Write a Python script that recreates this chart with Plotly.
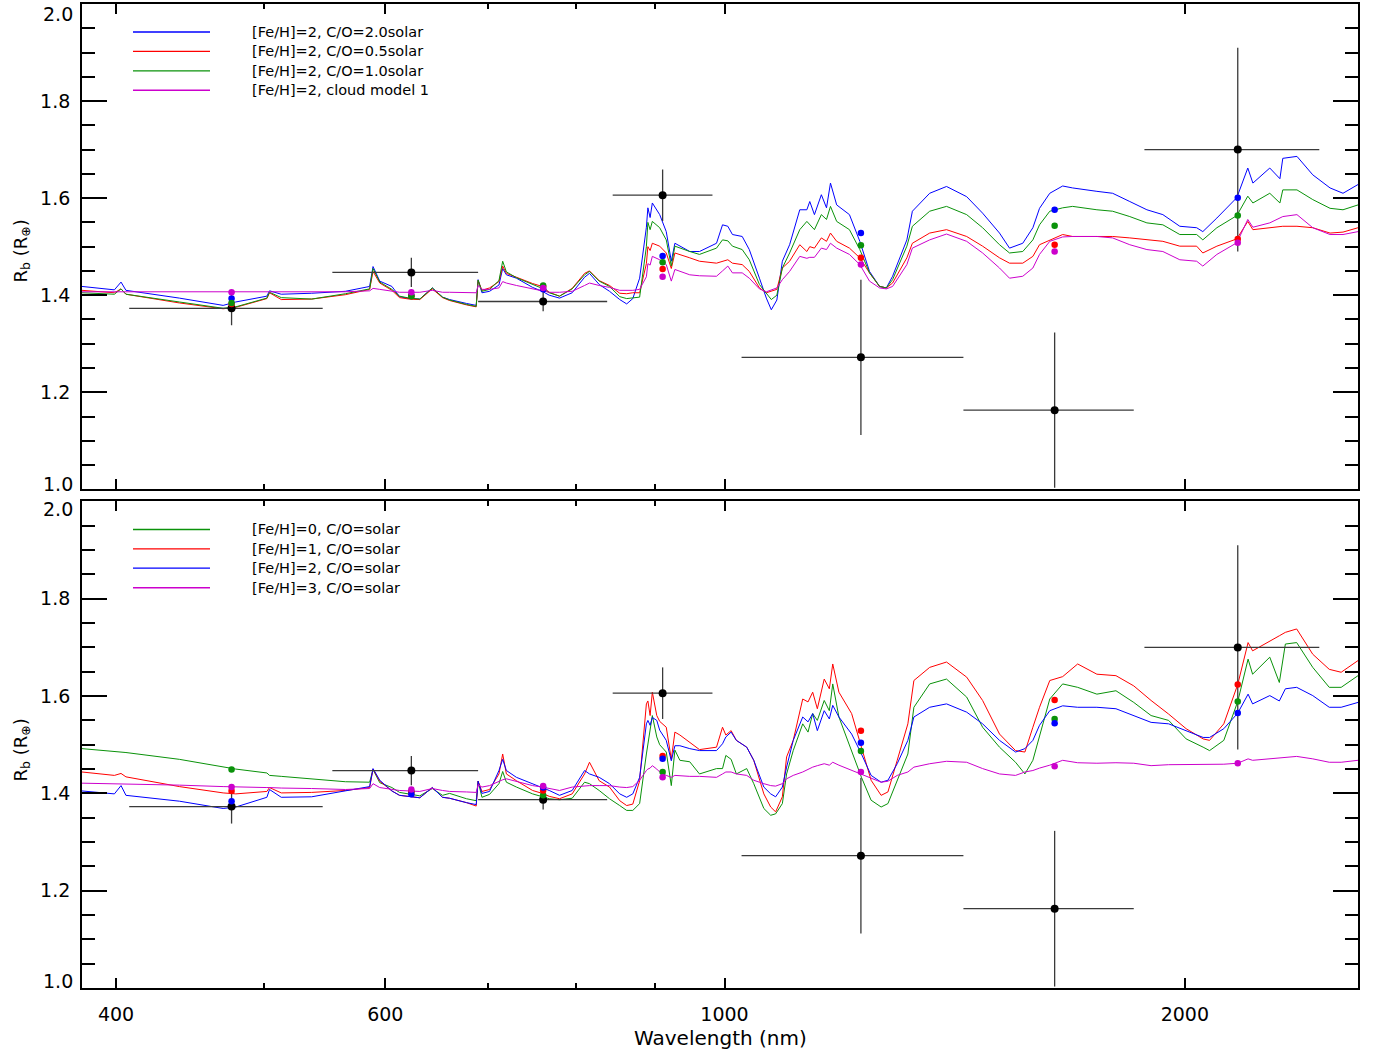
import math
import plotly.graph_objects as go

# ---------------------------------------------------------------------------
# Model transmission spectra, upper panel: [Fe/H]=2 with different C/O / clouds
# ---------------------------------------------------------------------------
wl_top = [380, 399, 403, 406, 440, 470, 479, 502, 504, 513, 537, 565, 586, 589,
          595, 606, 613, 622, 632, 644, 654, 661, 678, 688, 690, 694, 702, 712,
          716, 720, 731, 749, 760, 768, 780, 795, 810, 816, 828, 841, 854, 863,
          871, 880, 889, 891, 894, 897, 907, 916, 923, 928, 949, 963, 988, 997,
          1005, 1012, 1027, 1038, 1054, 1065, 1073, 1082, 1091, 1103, 1120, 1132,
          1137, 1145, 1157, 1166, 1173, 1184, 1207, 1226, 1244, 1263, 1276, 1288,
          1316, 1327, 1362, 1397, 1440, 1475, 1513, 1536, 1567, 1591, 1607, 1632,
          1664, 1689, 1752, 1794, 1841, 1889, 1935, 1985, 2036, 2055, 2099, 2163,
          2199, 2216, 2273, 2308, 2318, 2368, 2425, 2489, 2538, 2596]

top_co20 = [1.418, 1.411, 1.427, 1.410, 1.394, 1.379, 1.386, 1.398, 1.409, 1.402,
            1.404, 1.408, 1.418, 1.459, 1.429, 1.418, 1.397, 1.393, 1.392, 1.415,
            1.396, 1.391, 1.383, 1.379, 1.432, 1.405, 1.408, 1.421, 1.455, 1.442,
            1.435, 1.416, 1.408, 1.400, 1.394, 1.405, 1.437, 1.445, 1.422, 1.408,
            1.391, 1.382, 1.393, 1.435, 1.540, 1.580, 1.560, 1.590, 1.566, 1.531,
            1.470, 1.507, 1.490, 1.490, 1.507, 1.545, 1.542, 1.525, 1.521, 1.494,
            1.435, 1.394, 1.370, 1.390, 1.470, 1.504, 1.576, 1.576, 1.593, 1.566,
            1.607, 1.580, 1.631, 1.586, 1.566, 1.511, 1.449, 1.418, 1.415, 1.439,
            1.514, 1.573, 1.610, 1.624, 1.603, 1.569, 1.528, 1.497, 1.507, 1.539,
            1.579, 1.610, 1.625, 1.621, 1.614, 1.610, 1.593, 1.576, 1.566, 1.542,
            1.539, 1.531, 1.559, 1.601, 1.662, 1.631, 1.662, 1.640, 1.682, 1.686,
            1.648, 1.621, 1.610, 1.628]

top_co05 = [1.410, 1.405, 1.413, 1.402, 1.384, 1.372, 1.375, 1.393, 1.405, 1.391,
            1.392, 1.401, 1.412, 1.449, 1.425, 1.410, 1.395, 1.392, 1.391, 1.413,
            1.395, 1.389, 1.380, 1.376, 1.430, 1.410, 1.415, 1.428, 1.460, 1.445,
            1.437, 1.424, 1.418, 1.406, 1.398, 1.414, 1.445, 1.450, 1.430, 1.420,
            1.404, 1.403, 1.405, 1.405, 1.465, 1.500, 1.492, 1.507, 1.501, 1.487,
            1.455, 1.487, 1.477, 1.470, 1.466, 1.470, 1.473, 1.466, 1.463, 1.449,
            1.415, 1.405, 1.408, 1.412, 1.456, 1.470, 1.504, 1.490, 1.500, 1.497,
            1.518, 1.511, 1.528, 1.511, 1.497, 1.477, 1.446, 1.418, 1.415, 1.425,
            1.477, 1.507, 1.528, 1.535, 1.521, 1.501, 1.477, 1.466, 1.466, 1.480,
            1.504, 1.514, 1.525, 1.521, 1.521, 1.521, 1.518, 1.514, 1.511, 1.501,
            1.501, 1.487, 1.501, 1.516, 1.552, 1.535, 1.539, 1.540, 1.542, 1.542,
            1.539, 1.528, 1.530, 1.539]

top_co10 = [1.405, 1.402, 1.413, 1.402, 1.386, 1.373, 1.376, 1.394, 1.406, 1.395,
            1.392, 1.403, 1.413, 1.455, 1.427, 1.412, 1.398, 1.394, 1.392, 1.415,
            1.396, 1.390, 1.381, 1.377, 1.431, 1.408, 1.412, 1.430, 1.470, 1.448,
            1.436, 1.422, 1.414, 1.405, 1.398, 1.413, 1.442, 1.449, 1.429, 1.418,
            1.397, 1.393, 1.394, 1.396, 1.500, 1.550, 1.535, 1.552, 1.539, 1.514,
            1.460, 1.501, 1.490, 1.484, 1.497, 1.514, 1.512, 1.501, 1.494, 1.473,
            1.422, 1.405, 1.391, 1.400, 1.456, 1.487, 1.535, 1.552, 1.545, 1.535,
            1.566, 1.556, 1.583, 1.552, 1.535, 1.494, 1.446, 1.418, 1.415, 1.432,
            1.501, 1.542, 1.573, 1.583, 1.566, 1.539, 1.504, 1.487, 1.490, 1.514,
            1.545, 1.573, 1.580, 1.583, 1.576, 1.573, 1.562, 1.549, 1.545, 1.525,
            1.525, 1.514, 1.539, 1.564, 1.604, 1.590, 1.610, 1.590, 1.617, 1.617,
            1.597, 1.579, 1.576, 1.586]

top_cloud = [1.407, 1.407, 1.408, 1.407, 1.407, 1.407, 1.407, 1.407, 1.408, 1.407,
             1.407, 1.407, 1.409, 1.414, 1.412, 1.408, 1.406, 1.406, 1.406, 1.410,
             1.406, 1.406, 1.406, 1.405, 1.420, 1.412, 1.412, 1.415, 1.428, 1.425,
             1.420, 1.413, 1.410, 1.406, 1.406, 1.408, 1.420, 1.425, 1.420, 1.416,
             1.410, 1.410, 1.410, 1.412, 1.438, 1.465, 1.462, 1.480, 1.473, 1.463,
             1.429, 1.453, 1.442, 1.440, 1.439, 1.450, 1.460, 1.446, 1.446, 1.435,
             1.413, 1.407, 1.411, 1.415, 1.432, 1.449, 1.480, 1.476, 1.478, 1.478,
             1.497, 1.494, 1.507, 1.497, 1.484, 1.463, 1.429, 1.415, 1.413, 1.418,
             1.463, 1.497, 1.514, 1.526, 1.511, 1.487, 1.456, 1.435, 1.439, 1.456,
             1.484, 1.511, 1.520, 1.521, 1.521, 1.518, 1.504, 1.494, 1.490, 1.473,
             1.470, 1.460, 1.484, 1.508, 1.556, 1.540, 1.549, 1.560, 1.562, 1.566,
             1.539, 1.525, 1.525, 1.531]

# ---------------------------------------------------------------------------
# Model transmission spectra, lower panel: solar C/O with varying metallicity
# ---------------------------------------------------------------------------
wl_bot = [380, 399, 403, 406, 440, 470, 479, 502, 504, 513, 537, 565, 586, 589,
          595, 606, 613, 632, 644, 654, 661, 678, 688, 690, 694, 702, 712, 716,
          720, 731, 749, 760, 768, 780, 795, 810, 816, 828, 841, 854, 863, 871,
          880, 889, 891, 894, 897, 903, 907, 916, 923, 928, 935, 949, 963, 988,
          997, 1002, 1010, 1018, 1034, 1045, 1061, 1072, 1080, 1091, 1098, 1109,
          1125, 1134, 1142, 1150, 1162, 1171, 1177, 1188, 1211, 1229, 1247, 1266,
          1279, 1297, 1318, 1330, 1362, 1397, 1440, 1475, 1513, 1550, 1572, 1591,
          1607, 1632, 1664, 1702, 1752, 1803, 1852, 1901, 1952, 2004, 2056, 2076,
          2121, 2166, 2200, 2215, 2273, 2306, 2327, 2367, 2425, 2486, 2531, 2596]

bot_feh0 = [1.492, 1.486, 1.485, 1.484, 1.470, 1.455, 1.450, 1.442, 1.437, 1.435,
            1.430, 1.424, 1.423, 1.449, 1.422, 1.412, 1.402, 1.395, 1.410, 1.396,
            1.400, 1.389, 1.385, 1.425, 1.392, 1.398, 1.420, 1.445, 1.423, 1.413,
            1.399, 1.394, 1.389, 1.387, 1.390, 1.423, 1.420, 1.406, 1.389, 1.375,
            1.365, 1.365, 1.379, 1.481, 1.500, 1.530, 1.560, 1.516, 1.500, 1.485,
            1.416, 1.489, 1.468, 1.465, 1.440, 1.451, 1.451, 1.478, 1.470, 1.440,
            1.451, 1.420, 1.369, 1.355, 1.358, 1.379, 1.440, 1.488, 1.543, 1.526,
            1.564, 1.550, 1.591, 1.570, 1.625, 1.557, 1.488, 1.433, 1.386, 1.372,
            1.379, 1.427, 1.481, 1.577, 1.625, 1.635, 1.598, 1.536, 1.495, 1.464,
            1.440, 1.468, 1.516, 1.594, 1.625, 1.618, 1.604, 1.611, 1.587, 1.560,
            1.550, 1.512, 1.495, 1.488, 1.509, 1.589, 1.676, 1.645, 1.680, 1.628,
            1.707, 1.710, 1.659, 1.618, 1.618, 1.642]

bot_feh1 = [1.444, 1.437, 1.441, 1.434, 1.414, 1.401, 1.399, 1.404, 1.412, 1.401,
            1.402, 1.406, 1.412, 1.450, 1.425, 1.405, 1.396, 1.391, 1.412, 1.392,
            1.390, 1.381, 1.374, 1.425, 1.404, 1.408, 1.440, 1.481, 1.440, 1.426,
            1.406, 1.400, 1.394, 1.389, 1.399, 1.440, 1.464, 1.426, 1.413, 1.385,
            1.375, 1.378, 1.426, 1.584, 1.590, 1.560, 1.608, 1.560, 1.548, 1.536,
            1.470, 1.526, 1.520, 1.505, 1.490, 1.495, 1.536, 1.520, 1.529, 1.509,
            1.495, 1.468, 1.399, 1.372, 1.362, 1.393, 1.475, 1.509, 1.594, 1.588,
            1.608, 1.574, 1.635, 1.615, 1.666, 1.608, 1.564, 1.495, 1.427, 1.396,
            1.403, 1.468, 1.543, 1.632, 1.659, 1.670, 1.639, 1.591, 1.522, 1.488,
            1.485, 1.536, 1.577, 1.632, 1.640, 1.666, 1.645, 1.642, 1.621, 1.591,
            1.563, 1.533, 1.512, 1.509, 1.543, 1.624, 1.710, 1.693, 1.714, 1.724,
            1.731, 1.738, 1.686, 1.655, 1.649, 1.673]

bot_feh2 = [1.405, 1.399, 1.416, 1.396, 1.384, 1.369, 1.372, 1.392, 1.408, 1.392,
            1.393, 1.406, 1.414, 1.451, 1.427, 1.405, 1.396, 1.391, 1.412, 1.392,
            1.390, 1.381, 1.377, 1.425, 1.400, 1.404, 1.447, 1.470, 1.447, 1.433,
            1.420, 1.413, 1.406, 1.396, 1.406, 1.447, 1.440, 1.433, 1.420, 1.399,
            1.392, 1.399, 1.433, 1.543, 1.550, 1.540, 1.556, 1.550, 1.530, 1.509,
            1.467, 1.498, 1.498, 1.492, 1.488, 1.488, 1.502, 1.516, 1.526, 1.509,
            1.495, 1.468, 1.413, 1.399, 1.393, 1.413, 1.454, 1.509, 1.557, 1.547,
            1.564, 1.529, 1.570, 1.553, 1.581, 1.557, 1.522, 1.481, 1.437, 1.423,
            1.427, 1.461, 1.509, 1.557, 1.577, 1.584, 1.567, 1.543, 1.509, 1.485,
            1.492, 1.509, 1.540, 1.570, 1.580, 1.577, 1.577, 1.574, 1.560, 1.546,
            1.543, 1.529, 1.515, 1.515, 1.533, 1.565, 1.604, 1.584, 1.601, 1.590,
            1.615, 1.618, 1.601, 1.577, 1.577, 1.587]

bot_feh3 = [1.421, 1.420, 1.420, 1.420, 1.417, 1.414, 1.413, 1.412, 1.412, 1.411,
            1.410, 1.408, 1.410, 1.420, 1.412, 1.408, 1.406, 1.404, 1.410, 1.406,
            1.404, 1.403, 1.402, 1.418, 1.413, 1.416, 1.425, 1.428, 1.430, 1.425,
            1.416, 1.413, 1.410, 1.406, 1.413, 1.416, 1.416, 1.416, 1.416, 1.413,
            1.412, 1.414, 1.427, 1.447, 1.450, 1.452, 1.457, 1.450, 1.444, 1.437,
            1.433, 1.437, 1.436, 1.435, 1.435, 1.433, 1.440, 1.444, 1.444, 1.440,
            1.437, 1.427, 1.420, 1.416, 1.415, 1.420, 1.430, 1.437, 1.444, 1.450,
            1.454, 1.457, 1.461, 1.458, 1.464, 1.458, 1.447, 1.440, 1.430, 1.423,
            1.425, 1.437, 1.444, 1.454, 1.461, 1.466, 1.464, 1.451, 1.440, 1.437,
            1.444, 1.447, 1.452, 1.458, 1.468, 1.463, 1.462, 1.463, 1.462, 1.457,
            1.459, 1.459, 1.460, 1.459, 1.460, 1.462, 1.471, 1.468, 1.471, 1.473,
            1.474, 1.476, 1.471, 1.464, 1.464, 1.468]

# ---------------------------------------------------------------------------
# Broadband planet-radius measurements (bin centre, bin edges, radius, error)
# ---------------------------------------------------------------------------
obs_wl = [476, 624, 761, 911, 1228, 1644, 2166]
obs_wl_lo = [408, 554, 690, 845, 1026, 1433, 1882]
obs_wl_hi = [546, 690, 838, 982, 1433, 1852, 2449]
obs_r = [1.373, 1.447, 1.387, 1.606, 1.272, 1.163, 1.700]
obs_r_err = [0.035, 0.030, 0.020, 0.053, 0.160, 0.160, 0.210]

# Models integrated over the same bands
bin_top_co20 = [1.393, 1.400, 1.412, 1.481, 1.528, 1.576, 1.601]
bin_top_co05 = [1.382, 1.398, 1.418, 1.454, 1.477, 1.504, 1.516]
bin_top_co10 = [1.384, 1.398, 1.420, 1.468, 1.503, 1.543, 1.564]
bin_top_cloud = [1.406, 1.406, 1.415, 1.438, 1.463, 1.490, 1.508]

bin_bot_feh0 = [1.449, 1.404, 1.396, 1.444, 1.487, 1.553, 1.589]
bin_bot_feh1 = [1.405, 1.402, 1.406, 1.477, 1.529, 1.592, 1.624]
bin_bot_feh2 = [1.384, 1.398, 1.412, 1.471, 1.504, 1.544, 1.565]
bin_bot_feh3 = [1.413, 1.408, 1.415, 1.433, 1.444, 1.456, 1.462]

labels_top = ["[Fe/H]=2, C/O=2.0solar", "[Fe/H]=2, C/O=0.5solar",
              "[Fe/H]=2, C/O=1.0solar", "[Fe/H]=2, cloud model 1"]
labels_bot = ["[Fe/H]=0, C/O=solar", "[Fe/H]=1, C/O=solar",
              "[Fe/H]=2, C/O=solar", "[Fe/H]=3, C/O=solar"]

x_major = [400, 600, 1000, 2000]
x_minor = [500, 700, 800, 900]

BLUE, RED, GREEN, MAGENTA = "#0000ff", "#ff0000", "#0a920a", "#cc00cc"
FONT = "DejaVu Sans"

W, H = 1379, 1055
ML, MR, MT, MB = 82, 21, 2, 67
PW, PH = W - ML - MR, H - MT - MB


def paper_x(px):
    return (px - ML) / PW


def paper_y(py):
    return (H - MB - py) / PH


fig = go.Figure()

panels = [
    ("x", "y", wl_top,
     [(top_co20, BLUE), (top_co05, RED), (top_co10, GREEN), (top_cloud, MAGENTA)],
     [(bin_top_co20, BLUE), (bin_top_co05, RED), (bin_top_co10, GREEN), (bin_top_cloud, MAGENTA)]),
    ("x2", "y2", wl_bot,
     [(bot_feh0, GREEN), (bot_feh1, RED), (bot_feh2, BLUE), (bot_feh3, MAGENTA)],
     [(bin_bot_feh0, GREEN), (bin_bot_feh1, RED), (bin_bot_feh2, BLUE), (bin_bot_feh3, MAGENTA)]),
]

for xa, ya, wl, curves, bins in panels:
    for vals, col in curves:
        fig.add_trace(go.Scatter(x=wl, y=vals, mode="lines", xaxis=xa, yaxis=ya,
                                 line=dict(color=col, width=1), showlegend=False,
                                 hoverinfo="skip"))
    fig.add_trace(go.Scatter(
        x=obs_wl, y=obs_r, mode="markers", xaxis=xa, yaxis=ya, showlegend=False,
        marker=dict(color="black", size=8),
        error_x=dict(type="data", symmetric=False,
                     array=[h - c for h, c in zip(obs_wl_hi, obs_wl)],
                     arrayminus=[c - l for l, c in zip(obs_wl_lo, obs_wl)],
                     color="#3a3a3a", thickness=1.3, width=0),
        error_y=dict(type="data", array=obs_r_err, color="#3a3a3a",
                     thickness=1.3, width=0)))
    for vals, col in bins:
        fig.add_trace(go.Scatter(x=obs_wl, y=vals, mode="markers", xaxis=xa,
                                 yaxis=ya, showlegend=False,
                                 marker=dict(color=col, size=6.5)))

xrange = [math.log10(380), math.log10(2596)]
axis_common = dict(showline=True, linecolor="black", linewidth=1.8, mirror="ticks",
                   ticks="inside", tickcolor="black", showgrid=False, zeroline=False,
                   tickfont=dict(family=FONT, size=19, color="black"))

top_dom = [paper_y(488.3), 1.0]
bot_dom = [0.0, paper_y(500.5)]

fig.update_layout(
    width=W, height=H, margin=dict(l=ML, r=MR, t=MT, b=MB),
    paper_bgcolor="white", plot_bgcolor="white", showlegend=False,
    font=dict(family=FONT, color="black"),
    xaxis=dict(type="log", range=xrange, domain=[0, 1], anchor="y",
               tickvals=x_major, ticklen=10, tickwidth=1.5, showticklabels=False,
               minor=dict(tickvals=x_minor, ticklen=5, tickwidth=1.5,
                          ticks="inside", tickcolor="black"),
               **axis_common),
    xaxis2=dict(type="log", range=xrange, domain=[0, 1], anchor="y2", matches="x",
                tickvals=x_major, ticktext=[str(v) for v in x_major], ticklen=10,
                tickwidth=1.5, ticklabelstandoff=8,
                minor=dict(tickvals=x_minor, ticklen=5, tickwidth=1.5,
                           ticks="inside", tickcolor="black"),
                **axis_common),
    yaxis=dict(range=[1.0, 2.0], domain=top_dom, anchor="x",
               tickvals=[1.2, 1.4, 1.6, 1.8], ticktext=["1.2", "1.4", "1.6", "1.8"],
               ticklen=25, tickwidth=1.5, ticklabelstandoff=6,
               minor=dict(dtick=0.05, tick0=1.0, ticklen=13, tickwidth=1.5,
                          ticks="inside", tickcolor="black"),
               **axis_common),
    yaxis2=dict(range=[1.0, 2.0], domain=bot_dom, anchor="x2",
                tickvals=[1.2, 1.4, 1.6, 1.8], ticktext=["1.2", "1.4", "1.6", "1.8"],
                ticklen=25, tickwidth=1.5, ticklabelstandoff=6,
                minor=dict(dtick=0.05, tick0=1.0, ticklen=13, tickwidth=1.5,
                           ticks="inside", tickcolor="black"),
                **axis_common),
)

annotations = []
shapes = []

# end labels of the radius axes, nudged inside the frame
for text, py in [("2.0", 12), ("1.0", 483), ("2.0", 508), ("1.0", 981)]:
    annotations.append(dict(text=text, xref="paper", yref="paper",
                            x=paper_x(75), y=paper_y(py), xanchor="right",
                            yanchor="middle", showarrow=False,
                            font=dict(family=FONT, size=19, color="black")))

# radius axis titles
for py in (250, 750):
    annotations.append(dict(text="R<sub>b</sub> (R<sub>⊕</sub>)", xref="paper",
                            yref="paper", x=paper_x(22), y=paper_y(py),
                            xanchor="center", yanchor="middle", textangle=-90,
                            showarrow=False,
                            font=dict(family=FONT, size=18, color="black")))

annotations.append(dict(text="Wavelength (nm)", xref="paper", yref="paper",
                        x=paper_x(720), y=paper_y(1038), xanchor="center",
                        yanchor="middle", showarrow=False,
                        font=dict(family=FONT, size=20, color="black")))

# hand-drawn keys
key_rows_top = [30.0, 49.5, 69.0, 88.5]
key_rows_bot = [528.5, 548.0, 567.3, 587.0]
for labels, cols, rows in [
        (labels_top, [BLUE, RED, GREEN, MAGENTA], key_rows_top),
        (labels_bot, [GREEN, RED, BLUE, MAGENTA], key_rows_bot)]:
    for lab, col, py in zip(labels, cols, rows):
        shapes.append(dict(type="line", xref="paper", yref="paper",
                           x0=paper_x(133), x1=paper_x(210),
                           y0=paper_y(py), y1=paper_y(py),
                           line=dict(color=col, width=1.4)))
        annotations.append(dict(text=lab, xref="paper", yref="paper",
                                x=paper_x(250), y=paper_y(py), xanchor="left",
                                yanchor="middle", showarrow=False,
                                font=dict(family=FONT, size=14.5, color="black")))

fig.update_layout(annotations=annotations, shapes=shapes)

fig.write_html("out.html")
